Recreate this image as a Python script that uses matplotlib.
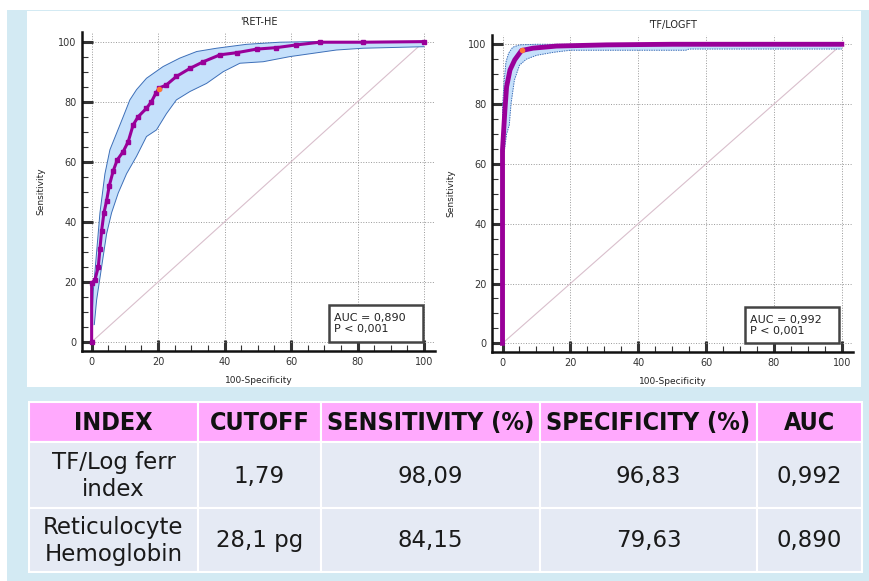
import numpy as np
import matplotlib
matplotlib.use("Agg")
import matplotlib.pyplot as plt
from matplotlib.patches import Rectangle

# ROC data: x = 100-Specificity, y = Sensitivity
ret_x = [0, 0, 1, 2, 2.5, 3, 3.7, 4.5, 5.3, 6.5, 7.7, 9.5, 11, 12.5, 14, 16.5, 18, 19.3, 20.3,
         22.5, 25.5, 29.6, 33.6, 38.6, 43.6, 49.6, 55.6, 61.6, 68.6, 81.7, 100]
ret_y = [0, 19.6, 20.7, 25, 31, 37, 43, 47, 52, 57, 60.6, 63.4, 66.7, 72.3, 75, 77.8, 80, 82.8, 84.5,
         85.6, 88.4, 91.1, 93.3, 95.6, 96.3, 97.5, 98, 98.9, 99.8, 99.8, 100]
ret_up_x = [0, 0.5, 1.5, 2.5, 4, 5.5, 7.5, 9.5, 11.5, 13.5, 16.5, 21.5, 26.5, 31.6, 37.6, 46.6, 56.6, 66.6, 100]
ret_up_y = [5, 17, 30, 43, 56, 64, 69.5, 75, 80.6, 84, 87.8, 91.7, 94.5, 96.7, 97.8, 99.1, 99.8, 100, 100]
ret_lo_x = [0.8, 1.5, 3, 4.5, 6, 8, 10.5, 13.5, 16.5, 19.5, 22.5, 25.5, 29.6, 34.6, 39.6, 44.6, 51.6,
            59.6, 66.6, 73.6, 81.7, 100]
ret_lo_y = [5.8, 14, 25, 36, 43, 49.6, 56, 61.8, 68.4, 70.6, 76, 80.6, 83.4, 86.1, 90, 92.8, 93.3,
            95, 96.1, 97.2, 97.8, 98.3]
ret_cut = (20.3, 84.3)

tf_x = [0, 0, 0.7, 1.2, 2.2, 3.6, 5.6, 9, 15.9, 30.6, 50, 100]
tf_y = [0, 64.7, 78, 85.8, 91.4, 94.8, 97.9, 98.7, 99.4, 99.8, 100, 100]
tf_up_x = [0, 0, 0.5, 1, 1.8, 3, 5, 10, 100]
tf_up_y = [64, 79, 88, 94, 97, 99, 99.8, 100, 100]
tf_lo_x = [0.5, 1.2, 2, 2.5, 3.5, 5, 7, 10, 15, 20, 54, 55, 100]
tf_lo_y = [64, 70, 73, 80, 88, 93, 95, 96.3, 97.3, 98, 98, 98.4, 98.4]
tf_cut = (5.7, 98.0)

titles = ["'RET-HE", "'TF/LOGFT"]
auc_text = ["AUC = 0,890\nP < 0,001", "AUC = 0,992\nP < 0,001"]

# table
col_labels = ["INDEX", "CUTOFF", "SENSITIVITY (%)", "SPECIFICITY (%)", "AUC"]
row1 = ["TF/Log ferr\nindex", "1,79", "98,09", "96,83", "0,992"]
row2 = ["Reticulocyte\nHemoglobin", "28,1 pg", "84,15", "79,63", "0,890"]

W, H = 870, 581
fig = plt.figure(figsize=(W / 100, H / 100), dpi=100)

# background layer in pixel coords
bg = fig.add_axes([0, 0, 1, 1], zorder=-5)
bg.set_xlim(0, W)
bg.set_ylim(H, 0)
bg.axis("off")
bg.add_patch(Rectangle((7, 10), W - 7, H - 10, facecolor="#d3eaf3", edgecolor="none"))
bg.add_patch(Rectangle((27, 11), 834, 376, facecolor="white", edgecolor="none"))

# table cells
col_edges = [29, 198, 321, 540, 757, 862]
row_edges = [402, 442, 508, 572]
rows = [col_labels, row1, row2]
for r in range(3):
    for c in range(5):
        x0, x1 = col_edges[c], col_edges[c + 1]
        y0, y1 = row_edges[r], row_edges[r + 1]
        fc = "#ffa9fd" if r == 0 else "#e5eaf4"
        bg.add_patch(Rectangle((x0, y0), x1 - x0, y1 - y0, facecolor=fc,
                               edgecolor="white", lw=1.5))
        if r == 0:
            bg.text((x0 + x1) / 2, (y0 + y1) / 2 + 1, rows[r][c], ha="center", va="center",
                    fontsize=18, fontweight="bold", family="DejaVu Sans",
                    fontstretch="condensed", color="#111111")
        else:
            bg.text((x0 + x1) / 2, (y0 + y1) / 2 + 1, rows[r][c], ha="center", va="center",
                    fontsize=16.5, family="DejaVu Sans", color="#1a1a1a", linespacing=1.2)


def roc_panel(rect, xlim, ylim, cx, cy, ux, uy, lx, ly, cut, title, txt, box, thick, dotted):
    ax = fig.add_axes([rect[0] / W, 1 - rect[3] / H, (rect[2] - rect[0]) / W, (rect[3] - rect[1]) / H])
    ax.set_xlim(*xlim)
    ax.set_ylim(*ylim)
    ax.patch.set_alpha(0)
    for s in ["top", "right"]:
        ax.spines[s].set_visible(False)
    for s in ["left", "bottom"]:
        ax.spines[s].set_linewidth(1.8)
        ax.spines[s].set_color("#111111")
    ax.set_xticks(np.arange(0, 101, 20))
    ax.set_yticks(np.arange(0, 101, 20))
    ax.set_xticks(np.arange(0, 101, 5), minor=True)
    ax.set_yticks(np.arange(0, 101, 5), minor=True)
    ax.tick_params(which="major", direction="in", length=8, width=2.2, color="#333333",
                   labelsize=7, labelcolor="#333333", pad=4)
    ax.tick_params(which="minor", direction="in", length=4, width=0.8, color="#333333")
    ax.grid(True, which="major", linestyle=":", color="#999999", lw=0.7)
    ax.set_axisbelow(True)
    ax.plot([0, 100], [0, 100], color="#d9bfcc", lw=0.8, zorder=2)
    # confidence band
    px = list(ux) + list(lx)[::-1]
    py = list(uy) + list(ly)[::-1]
    ax.fill(px, py, facecolor="#c5e0fb", edgecolor="none", zorder=3)
    ls = (0, (1.5, 1)) if dotted else "-"
    ax.plot(ux, uy, color="#3d6fb8", lw=0.7, ls=ls, zorder=4)
    ax.plot(lx, ly, color="#3d6fb8", lw=0.7, ls=ls, zorder=4)
    if thick:
        ax.plot(cx, cy, color="#990099", lw=3.5, zorder=5, solid_joinstyle="round")
    else:
        ax.plot(cx, cy, color="#990099", lw=2.2, marker="s", ms=2.5, zorder=5)
    ax.plot([cut[0]], [cut[1]], "o", color="#ff7733", ms=3, zorder=6)
    ax.set_title(title, fontsize=7, pad=5, color="#222222")
    ax.set_xlabel("100-Specificity", fontsize=6.5, labelpad=7, color="#222222")
    ax.set_ylabel("Sensitivity", fontsize=6.5, labelpad=9, color="#222222")
    ax.add_patch(Rectangle((box[0], 0), box[1] - box[0], box[2], facecolor="white",
                           edgecolor="#444444", lw=1.8, zorder=7))
    ax.text(box[0] + 1.5, box[2] / 2, txt, fontsize=8, va="center", ha="left",
            color="#222222", zorder=8, linespacing=1.1)
    return ax


roc_panel((82, 32, 435, 351), (-2.9, 103.3), (-3, 103.2), ret_x, ret_y, ret_up_x, ret_up_y,
          ret_lo_x, ret_lo_y, ret_cut, titles[0], auc_text[0], (71.5, 99.6, 12.3), False, False)
roc_panel((492, 35, 853, 352), (-3.1, 103.3), (-2.9, 103.1), tf_x, tf_y, tf_up_x, tf_up_y,
          tf_lo_x, tf_lo_y, tf_cut, titles[1], auc_text[1], (71.4, 99.1, 12.1), True, True)

fig.savefig("out.png", dpi=100)
